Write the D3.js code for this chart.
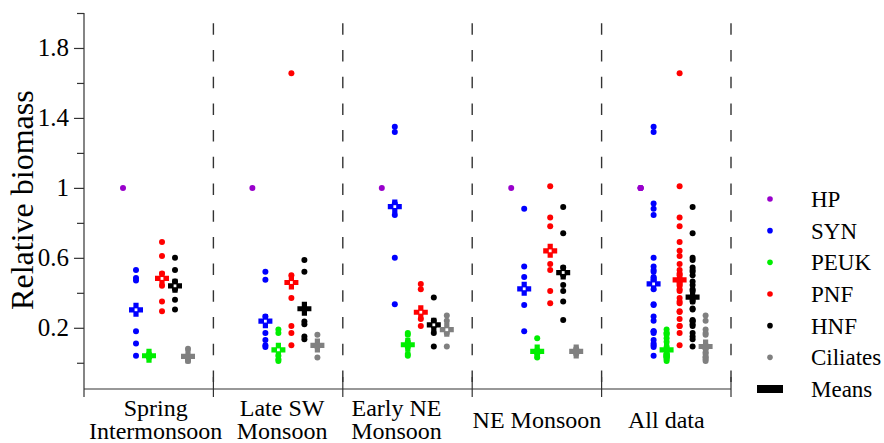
<!DOCTYPE html>
<html>
<head>
<meta charset="utf-8">
<script src="https://cdn.jsdelivr.net/npm/d3@7"></script>
<style>
  body { margin: 0; background: #fff; }
  svg { display: block; }
</style>
</head>
<body>
<svg id="chart" width="884" height="443"></svg>
<script>
// ---- data -------------------------------------------------------------
const seasons = ["Spring Intermonsoon", "Late SW Monsoon", "Early NE Monsoon", "NE Monsoon", "All data"];
const seasonLines = [["Spring", "Intermonsoon"], ["Late SW", "Monsoon"], ["Early NE", "Monsoon"], ["NE Monsoon"], ["All data"]];
const taxa = ["HP", "SYN", "PEUK", "PNF", "HNF", "Ciliates"];

// relative biomass per sample, one list per season (first four seasons)
const hpValues = [[1], [1], [1], [1]];
const synValues = [
  [0.53, 0.485, 0.47, 0.18, 0.11, 0.04],
  [0.52, 0.475, 0.265, 0.24, 0.17, 0.13, 0.10, 0.09],
  [1.35, 1.32, 0.91, 0.845, 0.6, 0.335],
  [0.88, 0.55, 0.49, 0.42, 0.33, 0.18]
];
const peukValues = [
  [0.05, 0.04, 0.035, 0.03],
  [0.19, 0.17, 0.07, 0.04, 0.02, 0.01],
  [0.17, 0.16, 0.12, 0.09, 0.05, 0.04],
  [0.14, 0.07, 0.05, 0.03]
];
const pnfValues = [
  [0.69, 0.61, 0.51, 0.48, 0.44, 0.35, 0.295],
  [1.655, 0.50, 0.46, 0.37, 0.21, 0.17, 0.10],
  [0.45, 0.42, 0.29, 0.25, 0.21],
  [1.01, 0.83, 0.78, 0.64, 0.565, 0.53, 0.41, 0.34]
];
const hnfValues = [
  [0.60, 0.53, 0.465, 0.42, 0.36, 0.305],
  [0.587, 0.52, 0.31, 0.236, 0.22, 0.15, 0.135],
  [0.373, 0.24, 0.21, 0.17, 0.093],
  [0.89, 0.74, 0.545, 0.50, 0.445, 0.41, 0.35, 0.245]
];
const ciliateValues = [
  [0.08, 0.035, 0.02, 0.01],
  [0.16, 0.10, 0.09, 0.03],
  [0.27, 0.24, 0.19, 0.17, 0.093],
  [0.08, 0.06, 0.05]
];

// means per column (four seasons + all data)
const synMeans = [0.303, 0.238, 0.893, 0.423, 0.451];
const peukMeans = [0.04, 0.074, 0.103, 0.065, 0.074];
const pnfMeans = [0.482, 0.459, 0.289, 0.64, 0.474];
const hnfMeans = [0.44, 0.309, 0.217, 0.516, 0.375];
const ciliateMeans = [0.036, 0.099, 0.189, 0.065, 0.093];

const majorTicks = [0.2, 0.6, 1, 1.4, 1.8];
const minorTicks = [0, 0.4, 0.8, 1.2, 1.6, 2.0];

// ---- styling ----------------------------------------------------------
const FONT = "Liberation Serif";
const colors = { HP: "#9900cc", SYN: "#0000ff", PEUK: "#00ee00", PNF: "#ff0000", HNF: "#000000", Ciliates: "#808080" };
// mean markers drawn with an open centre
const openCentre = {
  SYN: [1, 1, 1, 1, 1], PEUK: [0, 1, 0, 0, 0], PNF: [1, 1, 1, 1, 0],
  HNF: [1, 0, 1, 1, 0], Ciliates: [0, 0, 1, 0, 0]
};
const labelNudge = [7, 4, -11, 0, 0];

// ---- assemble ---------------------------------------------------------
const perSeason = { HP: hpValues, SYN: synValues, PEUK: peukValues, PNF: pnfValues, HNF: hnfValues, Ciliates: ciliateValues };
const means = { SYN: synMeans, PEUK: peukMeans, PNF: pnfMeans, HNF: hnfMeans, Ciliates: ciliateMeans };

const points = [];
taxa.forEach(t => {
  perSeason[t].forEach((vals, si) => {
    vals.forEach(v => {
      points.push({ taxon: t, season: seasons[si], value: v });
      points.push({ taxon: t, season: seasons[4], value: v });
    });
  });
});

// ---- layout -----------------------------------------------------------
const svg = d3.select("#chart");
const x0 = 84, x1 = 731, yTop = 13, yBot = 389;

const y = d3.scaleLinear().domain([-0.15, 2.0]).range([yBot, yTop]);
const xSeason = d3.scaleBand().domain(seasons).range([x0, x1]).paddingInner(0).paddingOuter(0);
const xTaxon = d3.scalePoint().domain(taxa).range([39, 104]);

// dashed separators
const bounds = seasons.map(s => xSeason(s) + xSeason.bandwidth());
svg.append("g").selectAll("line").data(bounds).join("line")
  .attr("x1", d => d).attr("x2", d => d)
  .attr("y1", yTop).attr("y2", yBot)
  .attr("stroke", "#333").attr("stroke-width", 1.4)
  .attr("stroke-dasharray", "11.5,15.2").attr("stroke-dashoffset", 16.4);

// x axis line with boundary ticks
svg.append("line").attr("x1", x0).attr("x2", x1).attr("y1", yBot).attr("y2", yBot)
  .attr("stroke", "#333").attr("stroke-width", 1.2);
svg.append("g").selectAll("line").data(bounds).join("line")
  .attr("x1", d => d).attr("x2", d => d).attr("y1", yBot - 12).attr("y2", yBot + 8)
  .attr("stroke", "#333").attr("stroke-width", 1.2);

// category labels
const cat = svg.append("g").attr("font-size", 24).attr("font-family", FONT).attr("text-anchor", "middle");
seasons.forEach((s, i) => {
  const cx = xSeason(s) + xSeason.bandwidth() / 2 + labelNudge[i];
  const lines = seasonLines[i];
  if (lines.length === 2) {
    cat.append("text").attr("x", cx).attr("y", 416).text(lines[0]);
    cat.append("text").attr("x", cx).attr("y", 439).text(lines[1]);
  } else {
    cat.append("text").attr("x", cx).attr("y", 428).text(lines[0]);
  }
});

// y axis
const yAxisMajor = d3.axisLeft(y).tickValues(majorTicks).tickSize(10).tickSizeOuter(0).tickPadding(5)
  .tickFormat(d => d3.format("~g")(d));
const yAxisMinor = d3.axisLeft(y).tickValues(minorTicks).tickSize(7).tickSizeOuter(0).tickFormat("");
const gMinor = svg.append("g").attr("transform", `translate(${x0},0)`).call(yAxisMinor);
const gMajor = svg.append("g").attr("transform", `translate(${x0},0)`).call(yAxisMajor);
[gMinor, gMajor].forEach(g => {
  g.attr("font-family", FONT).attr("font-size", 25);
  g.select(".domain").remove();
  g.selectAll(".tick line").attr("stroke", "#333").attr("stroke-width", 1.2);
});
gMajor.selectAll(".tick text").attr("fill", "#000");
svg.append("line").attr("x1", x0).attr("x2", x0).attr("y1", yTop).attr("y2", yBot + 8)
  .attr("stroke", "#333").attr("stroke-width", 1.2);

// y title
svg.append("text").attr("transform", `translate(33,${y(0.93)}) rotate(-90)`)
  .attr("text-anchor", "middle").attr("font-size", 32).attr("font-family", FONT).text("Relative biomass");

// sample dots
svg.append("g").selectAll("circle").data(points).join("circle")
  .attr("cx", d => xSeason(d.season) + xTaxon(d.taxon))
  .attr("cy", d => y(d.value))
  .attr("r", 3)
  .attr("fill", d => colors[d.taxon]);

// mean markers
const meanData = [];
Object.keys(means).forEach(t => means[t].forEach((v, i) =>
  meanData.push({ taxon: t, season: seasons[i], value: v, open: openCentre[t][i] })));
const plus = (a, w) => `M${-w},${-a}H${w}V${-w}H${a}V${w}H${w}V${a}H${-w}V${w}H${-a}V${-w}H${-w}Z`;
const gm = svg.append("g").selectAll("g").data(meanData).join("g")
  .attr("transform", d => `translate(${xSeason(d.season) + xTaxon(d.taxon)},${y(d.value)})`);
gm.append("path").attr("d", plus(7, 2.6)).attr("fill", d => colors[d.taxon]);
gm.filter(d => d.open).append("rect").attr("x", -1.4).attr("y", -1.4).attr("width", 2.8).attr("height", 2.8).attr("fill", "#fff");

// legend
const legY = d3.scalePoint().domain([...taxa, "Means"]).range([199, 389]);
const leg = svg.append("g").attr("font-size", 23).attr("font-family", FONT);
taxa.forEach(t => {
  leg.append("circle").attr("cx", 770).attr("cy", legY(t)).attr("r", 2.8).attr("fill", colors[t]);
  leg.append("text").attr("x", 811).attr("y", legY(t)).attr("dy", "0.35em").text(t);
});
leg.append("rect").attr("x", 757).attr("y", legY("Means") - 4).attr("width", 26).attr("height", 8).attr("fill", "#000");
leg.append("text").attr("x", 811).attr("y", legY("Means")).attr("dy", "0.35em").text("Means");
</script>
</body>
</html>
